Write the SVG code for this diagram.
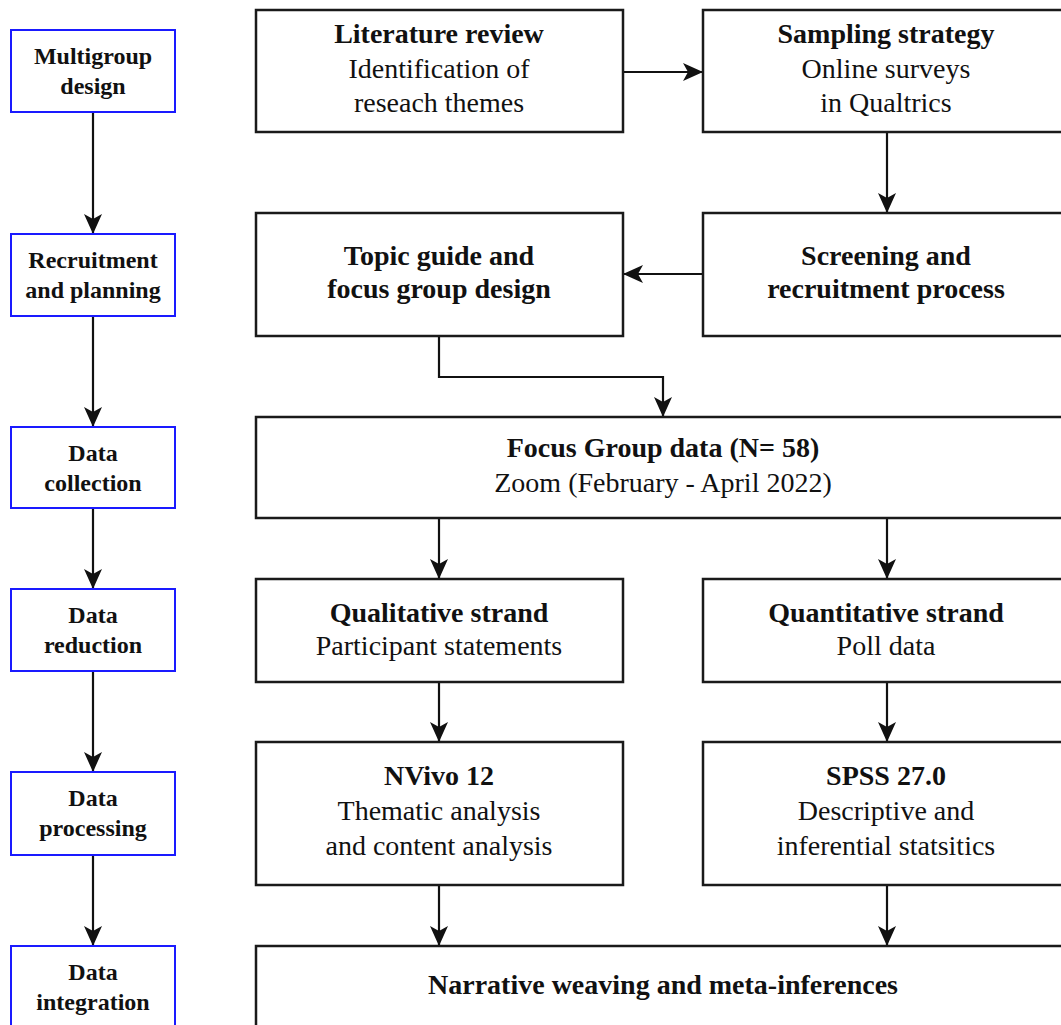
<svg xmlns="http://www.w3.org/2000/svg" width="1061" height="1025" viewBox="0 0 1061 1025">
<style>
.bg{fill:#ffffff}
.stage rect{fill:#ffffff;stroke:#1a1aff;stroke-width:2}
.stage text{font-family:"Liberation Serif","Times New Roman",serif;font-size:24px;font-weight:bold;fill:#111;text-anchor:middle}
.node rect{fill:#ffffff;stroke:#1a1a1a;stroke-width:2.5}
.node text{font-family:"Liberation Serif","Times New Roman",serif;font-size:28px;fill:#111;text-anchor:middle}
.node .b{font-weight:bold}
#connectors path{fill:none;stroke:#111;stroke-width:2.2}
</style>
<defs>
<marker id="ah" markerUnits="userSpaceOnUse" markerWidth="20" markerHeight="18" viewBox="0 0 20 18" refX="20" refY="9" orient="auto">
<path d="M0,0 L20,9 L0,18 L5,9 z" fill="#111"/>
</marker>
</defs>
<rect class="bg" x="0" y="0" width="1061" height="1025"/>

<g id="connectors">
<path d="M93,112 V234" marker-end="url(#ah)"/>
<path d="M93,316 V427" marker-end="url(#ah)"/>
<path d="M93,508 V589" marker-end="url(#ah)"/>
<path d="M93,671 V772" marker-end="url(#ah)"/>
<path d="M93,855 V946" marker-end="url(#ah)"/>
<path d="M623,72 H703" marker-end="url(#ah)"/>
<path d="M887,132 V213" marker-end="url(#ah)"/>
<path d="M703,274 H623" marker-end="url(#ah)"/>
<path d="M439,336 V377 H663 V417" marker-end="url(#ah)"/>
<path d="M439,518 V579" marker-end="url(#ah)"/>
<path d="M887,518 V579" marker-end="url(#ah)"/>
<path d="M439,682 V742" marker-end="url(#ah)"/>
<path d="M887,682 V742" marker-end="url(#ah)"/>
<path d="M439,885 V946" marker-end="url(#ah)"/>
<path d="M887,885 V946" marker-end="url(#ah)"/>
</g>

<g id="stage-multigroup" class="stage">
<rect x="11" y="30" width="164" height="82"/>
<text x="93" y="64">Multigroup</text>
<text x="93" y="94">design</text>
</g>
<g id="stage-recruitment" class="stage">
<rect x="11" y="234" width="164" height="82"/>
<text x="93" y="268">Recruitment</text>
<text x="93" y="298">and planning</text>
</g>
<g id="stage-collection" class="stage">
<rect x="11" y="427" width="164" height="81"/>
<text x="93" y="461">Data</text>
<text x="93" y="491">collection</text>
</g>
<g id="stage-reduction" class="stage">
<rect x="11" y="589" width="164" height="82"/>
<text x="93" y="623">Data</text>
<text x="93" y="653">reduction</text>
</g>
<g id="stage-processing" class="stage">
<rect x="11" y="772" width="164" height="83"/>
<text x="93" y="806">Data</text>
<text x="93" y="836">processing</text>
</g>
<g id="stage-integration" class="stage">
<rect x="11" y="946" width="164" height="84"/>
<text x="93" y="980">Data</text>
<text x="93" y="1010">integration</text>
</g>

<g id="node-literature" class="node">
<rect x="256" y="10" width="367" height="122"/>
<text x="439" y="43" class="b">Literature review</text>
<text x="439" y="78">Identification of</text>
<text x="439" y="112">reseach themes</text>
</g>
<g id="node-sampling" class="node">
<rect x="703" y="10" width="367" height="122"/>
<text x="886" y="43" class="b">Sampling strategy</text>
<text x="886" y="78">Online surveys</text>
<text x="886" y="112">in Qualtrics</text>
</g>
<g id="node-topic" class="node">
<rect x="256" y="213" width="367" height="123"/>
<text x="439" y="265" class="b">Topic guide and</text>
<text x="439" y="298" class="b">focus group design</text>
</g>
<g id="node-screening" class="node">
<rect x="703" y="213" width="367" height="123"/>
<text x="886" y="265" class="b">Screening and</text>
<text x="886" y="298" class="b">recruitment process</text>
</g>
<g id="node-focus" class="node">
<rect x="256" y="417" width="814" height="101"/>
<text x="663" y="457" class="b">Focus Group data (N= 58)</text>
<text x="663" y="492">Zoom (February - April 2022)</text>
</g>
<g id="node-qual" class="node">
<rect x="256" y="579" width="367" height="103"/>
<text x="439" y="622" class="b">Qualitative strand</text>
<text x="439" y="655">Participant statements</text>
</g>
<g id="node-quant" class="node">
<rect x="703" y="579" width="367" height="103"/>
<text x="886" y="622" class="b">Quantitative strand</text>
<text x="886" y="655">Poll data</text>
</g>
<g id="node-nvivo" class="node">
<rect x="256" y="742" width="367" height="143"/>
<text x="439" y="785" class="b">NVivo 12</text>
<text x="439" y="820">Thematic analysis</text>
<text x="439" y="855">and content analysis</text>
</g>
<g id="node-spss" class="node">
<rect x="703" y="742" width="367" height="143"/>
<text x="886" y="785" class="b">SPSS 27.0</text>
<text x="886" y="820">Descriptive and</text>
<text x="886" y="855">inferential statsitics</text>
</g>
<g id="node-narrative" class="node">
<rect x="256" y="946" width="814" height="90"/>
<text x="663" y="994" class="b">Narrative weaving and meta-inferences</text>
</g>
</svg>
